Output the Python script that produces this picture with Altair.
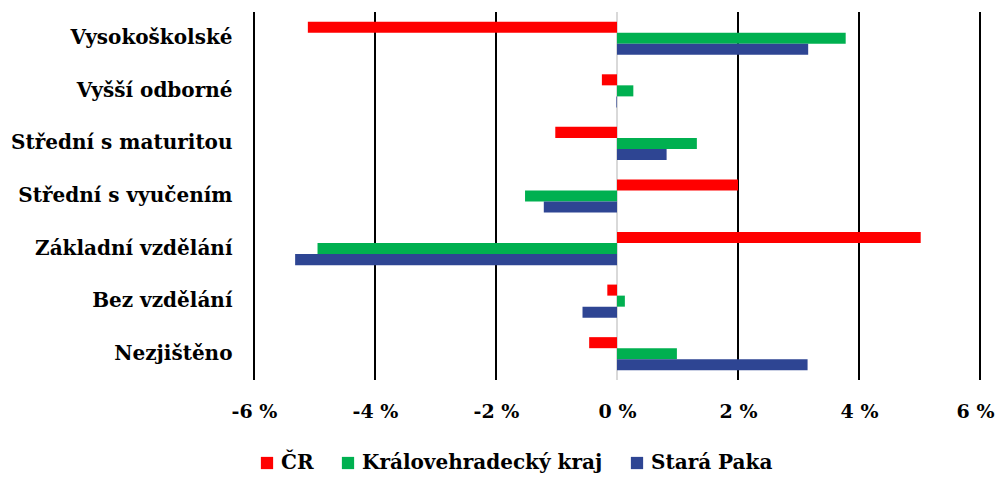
import altair as alt
import pandas as pd

categories = ["Vysokoškolské", "Vyšší odborné", "Střední s maturitou",
              "Střední s vyučením", "Základní vzdělání", "Bez vzdělání", "Nezjištěno"]
series = ["ČR", "Královehradecký kraj", "Stará Paka"]
cr = [-5.11, -0.25, -1.02, 2.0, 5.02, -0.16, -0.46]
kraj = [3.78, 0.27, 1.32, -1.52, -4.95, 0.13, 0.99]
paka = [3.16, -0.01, 0.82, -1.21, -5.32, -0.57, 3.15]
colors = ["#FF0000", "#00B050", "#2E4593"]
grid_vals = [-6, -4, -2, 2, 4, 6]
tick_vals = [-6, -4, -2, 0, 2, 4, 6]

rows = []
for s, vals in zip(series, [cr, kraj, paka]):
    for c, v in zip(categories, vals):
        rows.append({"cat": c, "series": s, "value": v / 100})
df = pd.DataFrame(rows)
grid_df = pd.DataFrame({"g": [g / 100 for g in grid_vals]})

FONT = "DejaVu Serif"
FS = 20

xscale = alt.Scale(domain=[-0.06, 0.06], nice=False, zero=False)
xaxis = alt.Axis(values=[t / 100 for t in tick_vals],
                 labelExpr="replace(format(datum.value*100, 'd'), '−', '-') + ' %'",
                 title=None, grid=False, domain=False, ticks=False,
                 labelFlush=False, labelOverlap=False, labelBound=False,
                 labelOffset={"condition": {"test": "datum.value > 0.05", "value": -5}, "value": 0},
                 labelFont=FONT, labelFontWeight="bold", labelFontSize=19,
                 labelColor="#000000", labelPadding=22)

grid = alt.Chart(grid_df).mark_rule(color="#000000", strokeWidth=2).encode(
    x=alt.X("g:Q", scale=xscale, axis=xaxis)
)
zero = alt.Chart(pd.DataFrame({"g": [0.0]})).mark_rule(color="#d9d9d9", strokeWidth=2).encode(
    x=alt.X("g:Q", scale=xscale, axis=xaxis)
)

bars = alt.Chart(df).mark_bar().encode(
    x=alt.X("value:Q", scale=xscale, axis=xaxis),
    y=alt.Y("cat:N", sort=categories,
            scale=alt.Scale(paddingInner=0.37, paddingOuter=0.185),
            axis=alt.Axis(title=None, domain=False, ticks=False, labelPadding=22,
                          labelFont=FONT, labelFontWeight="bold", labelFontSize=FS,
                          labelColor="#000000", labelLimit=400)),
    yOffset=alt.YOffset("series:N", sort=series),
    color=alt.Color("series:N", sort=series,
                    scale=alt.Scale(domain=series, range=colors),
                    legend=alt.Legend(title=None, orient="none", direction="horizontal",
                                      legendX=3, legendY=441,
                                      symbolType="square", symbolSize=150,
                                      labelFont=FONT, labelFontWeight="bold",
                                      labelFontSize=FS, labelColor="#000000",
                                      labelLimit=400, columnPadding=24)),
)

chart = alt.layer(grid, zero, bars).properties(
    width=726, height=368,
    background="#ffffff",
    autosize=alt.AutoSizeParams(type="none"),
    padding={"left": 246, "top": 4, "right": 16, "bottom": 96},
).configure_view(stroke=None)

chart.save("out.html", embed_options={"renderer": "svg", "actions": False})
